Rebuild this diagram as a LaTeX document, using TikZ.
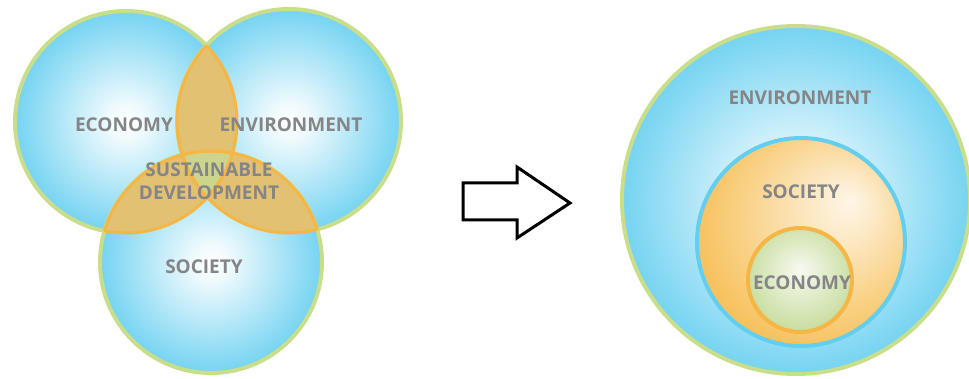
\documentclass[tikz,border=0pt]{standalone}
\usepackage{fontspec}
\setmainfont{Open Sans}
\usepackage{tikz}
\usetikzlibrary{calc}

\definecolor{skyb}{HTML}{64CEF0}
\definecolor{rimgreen}{HTML}{C9DE8A}
\definecolor{lenstan}{HTML}{E2C172}
\definecolor{rimorange}{HTML}{F5B645}
\definecolor{midgreen}{HTML}{CDD58C}
\definecolor{socorange}{HTML}{F7C25E}
\definecolor{ecogreen}{HTML}{BCD68A}
\definecolor{labelgray}{HTML}{858587}

\pgfdeclareradialshading{bluegl}{\pgfpoint{0bp}{0bp}}{color(0bp)=(white); color(4bp)=(white!90!skyb); color(28bp)=(skyb); color(50bp)=(skyb)}
\pgfdeclareradialshading{orangegl}{\pgfpoint{12bp}{10bp}}{color(0bp)=(white!85!socorange); color(5bp)=(white!72!socorange); color(30bp)=(socorange); color(50bp)=(socorange)}
\pgfdeclareradialshading{greengl}{\pgfpoint{0bp}{5bp}}{color(0bp)=(white!88!ecogreen); color(6bp)=(white!72!ecogreen); color(34bp)=(ecogreen); color(50bp)=(ecogreen)}

\tikzset{
  label/.style={text=labelgray, font=\bfseries\fontsize{19}{23}\selectfont, inner sep=0pt, align=center},
  rim/.style={line width=4pt},
}

\begin{document}
\begin{tikzpicture}[x=1pt,y=-1pt]
\useasboundingbox (0,0) rectangle (969,379);
% venn side
\coordinate (E) at (126,122); \coordinate (V) at (289,121); \coordinate (S) at (211,262);
\shade[shading=bluegl, draw=rimgreen, rim] (E) circle (111);
\shade[shading=bluegl, draw=rimgreen, rim] (V) circle (112);
\shade[shading=bluegl, draw=rimgreen, rim] (S) circle (111);
\begin{scope} \clip (E) circle (111); \fill[lenstan] (V) circle (112); \fill[lenstan] (S) circle (111); \end{scope}
\begin{scope} \clip (V) circle (112); \fill[lenstan] (S) circle (111); \end{scope}
\begin{scope} \clip (E) circle (111); \clip (V) circle (112); \fill[midgreen] (S) circle (111); \end{scope}
\begin{scope} \clip (E) circle (111); \draw[rimorange, line width=3pt] (V) circle (112) (S) circle (111); \end{scope}
\begin{scope} \clip (V) circle (112); \draw[rimorange, line width=3pt] (E) circle (111) (S) circle (111); \end{scope}
\begin{scope} \clip (S) circle (111); \draw[rimorange, line width=3pt] (E) circle (111) (V) circle (112); \end{scope}
\node[label] (eco) at (124,125) {ECONOMY};
\node[label] (env) at (291,125) {ENVIRONMENT};
\node[label] (sus) at (209,181) {SUSTAINABLE\\DEVELOPMENT};
\node[label] (soc) at (204,267) {SOCIETY};
% arrow
\draw[line width=3pt, fill=white, miter limit=10] (463,183) -- (517,183) -- (517,167) -- (570,203) -- (517,238) -- (517,220) -- (463,220) -- cycle;
% nested side
\coordinate (E2) at (796,200); \coordinate (S2) at (801,242); \coordinate (C2) at (800,280);
\shade[shading=bluegl, draw=rimgreen, rim] (E2) circle (174);
\shade[shading=orangegl, draw=skyb, rim] (S2) circle (104);
\shade[shading=greengl, draw=rimorange, rim] (C2) circle (52);
\node[label] (env2) at (800,98) {ENVIRONMENT};
\node[label] (soc2) at (801,192) {SOCIETY};
\node[label] (eco2) at (802,283) {ECONOMY};
\end{tikzpicture}
\end{document}
